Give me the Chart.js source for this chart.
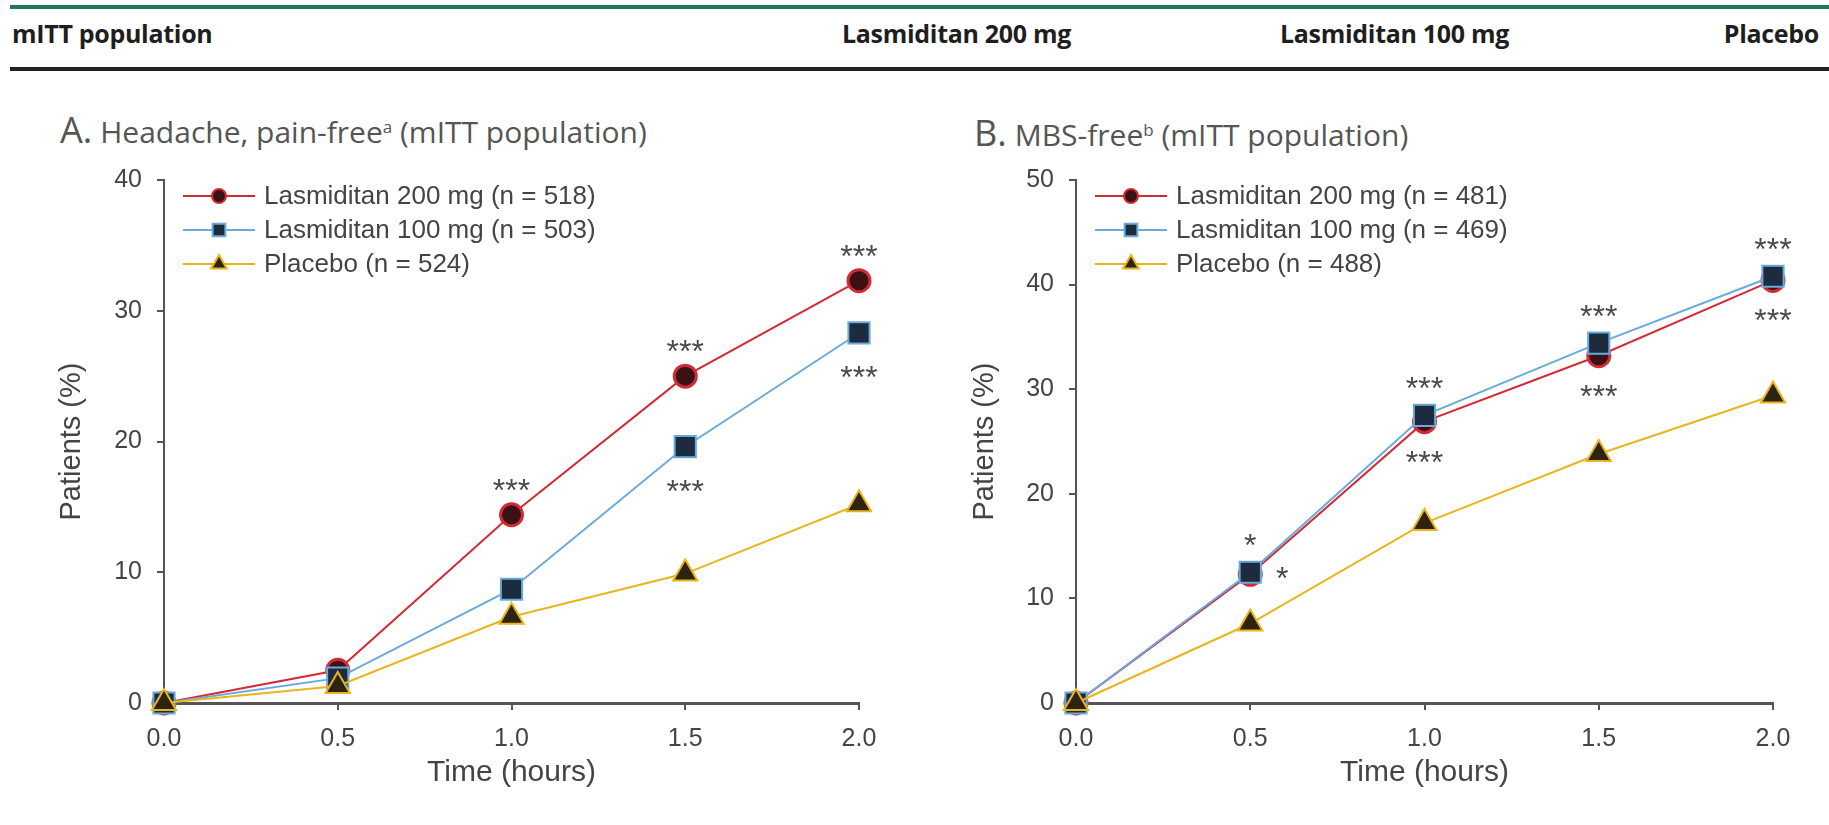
<!DOCTYPE html>
<html>
<head>
<meta charset="utf-8">
<title>Lasmiditan – pain-free and MBS-free</title>
<script src="https://cdn.jsdelivr.net/npm/chart.js@4.4.1/dist/chart.umd.min.js"></script>
<style>
  body {
    margin: 0;
    width: 1829px;
    height: 825px;
    background: #fff;
    position: relative;
    overflow: hidden;
    font-family: 'Open Sans', sans-serif;
  }
  .topbar { position: absolute; left: 10px; right: 0; top: 5px; height: 4px; background: #1c7a58; }
  .rule { position: absolute; left: 10px; right: 0; top: 67px; height: 4px; background: #222; }
  .hdr {
    position: absolute;
    top: 17px;
    font-weight: 700;
    font-size: 25px;
    line-height: 32px;
    color: #1e1e1e;
    letter-spacing: -0.3px;
    white-space: nowrap;
  }
  .ptitle {
    position: absolute;
    color: #555;
    font-size: 30px;
    line-height: 40px;
    white-space: nowrap;
  }
  .ptitle .lead { font-size: 36px; margin-right: 8px; }
  .ptitle sup { font-size: 17px; vertical-align: 10px; line-height: 0; }
  .panel { position: absolute; top: 150px; }
</style>
</head>
<body>
<div class="topbar"></div>
<div class="hdr" style="left:12px">mITT population</div>
<div class="hdr" style="left:842px">Lasmiditan 200 mg</div>
<div class="hdr" style="left:1280px">Lasmiditan 100 mg</div>
<div class="hdr" style="right:10px">Placebo</div>
<div class="rule"></div>

<div class="ptitle" style="left:60px; top:110px"><span class="lead">A.</span>Headache, pain-free<sup>a</sup> (mITT population)</div>
<div class="ptitle" style="left:974px; top:113px"><span class="lead">B.</span>MBS-free<sup>b</sup> (mITT population)</div>

<div class="panel" style="left:0px"><canvas id="painFreeChart" width="900" height="660"></canvas></div>
<div class="panel" style="left:900px"><canvas id="mbsFreeChart" width="929" height="660"></canvas></div>

<script>
// Time points and y ticks
const timeLabels = ['0.0', '0.5', '1.0', '1.5', '2.0'];
const painFreeTicks = [0, 10, 20, 30, 40];
const mbsFreeTicks = [0, 10, 20, 30, 40, 50];

// A. Headache pain-free, % of patients
const painFree200 = [0, 2.5, 14.4, 25.0, 32.3];
const painFree100 = [0, 1.9, 8.7, 19.6, 28.3];
const painFreePbo = [0, 1.3, 6.6, 9.9, 15.2];
const painFreeN = [518, 503, 524];
const painFreeSig200 = ['', '', '***', '***', '***'];
const painFreeSig100 = ['', '', '', '***', '***'];

// B. MBS-free, % of patients
const mbsFree200 = [0, 12.3, 26.9, 33.2, 40.4];
const mbsFree100 = [0, 12.5, 27.5, 34.4, 40.8];
const mbsFreePbo = [0, 7.6, 17.2, 23.8, 29.4];
const mbsFreeN = [481, 469, 488];
const mbsFreeSig200 = ['', '*', '***', '***', '***'];
const mbsFreeSig100 = ['', '*', '***', '***', '***'];

const SANS = '"Liberation Sans", Arial, Helvetica, sans-serif';
const TEXT = '#444';
const AXIS = '#555';

const arms = [
    { name: 'Lasmiditan 200 mg', line: '#d42a35', fill: '#3a1216', style: 'circle', radius: 11, bw: 3, legendR: 7, order: 3 },
    { name: 'Lasmiditan 100 mg', line: '#6aaadb', fill: '#1c2c3e', style: 'rect', radius: 15, bw: 2, legendR: 9, order: 2 },
    { name: 'Placebo', line: '#e8b51c', fill: '#2e2210', style: 'triangle', radius: 14, bw: 2, legendR: 9, order: 1 }
];

// Legend with a line through each marker, drawn inside the plot area
const lineLegend = {
    id: 'lineLegend',
    afterDraw(chart, args, opts) {
        const ctx = chart.ctx;
        const area = chart.chartArea;
        ctx.save();
        ctx.font = '26px ' + SANS;
        ctx.textBaseline = 'middle';
        ctx.textAlign = 'left';
        opts.n.forEach((n, i) => {
            const arm = arms[i];
            const y = area.top + 16 + i * 34;
            const x0 = area.left + 19;
            ctx.strokeStyle = arm.line;
            ctx.lineWidth = 2;
            ctx.beginPath();
            ctx.moveTo(x0, y);
            ctx.lineTo(x0 + 72, y);
            ctx.stroke();
            ctx.fillStyle = arm.fill;
            ctx.lineWidth = 2;
            Chart.helpers.drawPoint(ctx, {
                pointStyle: arm.style, radius: arm.legendR, rotation: 0, borderWidth: 2
            }, x0 + 36, y);
            ctx.fillStyle = TEXT;
            ctx.fillText(arm.name + ' (n = ' + n + ')', x0 + 81, y + 1);
        });
        ctx.restore();
    }
};

// Significance asterisks next to the points
const sigMarks = {
    id: 'sigMarks',
    afterDatasetsDraw(chart, args, opts) {
        const ctx = chart.ctx;
        ctx.save();
        ctx.font = '32px ' + SANS;
        ctx.fillStyle = '#4a4a4a';
        ctx.textAlign = 'center';
        ctx.textBaseline = 'alphabetic';
        opts.marks.forEach(m => {
            const meta = chart.getDatasetMeta(m.dataset);
            m.labels.forEach((txt, i) => {
                if (!txt) return;
                const pt = meta.data[i];
                let dx = 0, dy = m.dy;
                if (m.besideAt === i) { dx = 32; dy = -3; }
                // asterisks sit high in the em box, so shift the baseline down
                ctx.fillText(txt, pt.x + dx, pt.y + dy + 18);
            });
        });
        ctx.restore();
    }
};

function makeDatasets(series) {
    return series.map((values, i) => ({
        label: arms[i].name,
        data: values,
        borderColor: arms[i].line,
        borderWidth: 2,
        backgroundColor: arms[i].fill,
        pointStyle: arms[i].style,
        pointRadius: arms[i].radius,
        pointHoverRadius: arms[i].radius,
        pointBackgroundColor: arms[i].fill,
        pointBorderColor: arms[i].line,
        pointBorderWidth: arms[i].bw,
        tension: 0,
        clip: false,
        order: arms[i].order
    }));
}

function makeChart(id, series, yTicks, cfg) {
    const ctx = document.getElementById(id).getContext('2d');
    return new Chart(ctx, {
        type: 'line',
        data: { labels: timeLabels, datasets: makeDatasets(series) },
        plugins: [sigMarks, lineLegend],
        options: {
            responsive: false,
            animation: false,
            events: [],
            layout: { padding: { left: 0, top: 30, right: cfg.padRight, bottom: 0 } },
            plugins: {
                legend: { display: false },
                tooltip: { enabled: false },
                lineLegend: { n: cfg.n },
                sigMarks: { marks: cfg.marks }
            },
            scales: {
                x: {
                    type: 'category',
                    offset: false,
                    ticks: { color: TEXT, font: { family: SANS, size: 25 }, padding: 14, maxRotation: 0, autoSkip: false },
                    grid: { drawOnChartArea: false, offset: false, tickLength: 7, color: AXIS, lineWidth: 2 },
                    border: { color: AXIS, width: 3 },
                    title: {
                        display: true, text: 'Time (hours)', color: TEXT,
                        font: { family: SANS, size: 30 }, padding: { top: 0, bottom: 19 }
                    },
                    afterFit(scale) {
                        scale.height = 107;
                        scale.paddingLeft = 0;
                        scale.paddingRight = 0;
                    }
                },
                y: {
                    min: 0,
                    max: yTicks[yTicks.length - 1],
                    afterBuildTicks(scale) {
                        scale.ticks = yTicks.map(v => ({ value: v }));
                    },
                    ticks: { color: TEXT, font: { family: SANS, size: 25 }, padding: 15 },
                    grid: { drawOnChartArea: false, tickLength: 7, color: AXIS, lineWidth: 2 },
                    border: { color: AXIS, width: 2 },
                    title: {
                        display: true, text: 'Patients (%)', color: TEXT,
                        font: { family: SANS, size: 29 }, padding: { top: cfg.titleGap, bottom: 0 }
                    },
                    afterFit(scale) {
                        scale.width = cfg.axisWidth;
                        scale.paddingTop = 0;
                        scale.paddingBottom = 0;
                    }
                }
            }
        }
    });
}

makeChart('painFreeChart', [painFree200, painFree100, painFreePbo], painFreeTicks, {
    padRight: 41,
    axisWidth: 164,
    titleGap: 55,
    n: painFreeN,
    marks: [
        { dataset: 0, labels: painFreeSig200, dy: -32 },
        { dataset: 1, labels: painFreeSig100, dy: 37 }
    ]
});

makeChart('mbsFreeChart', [mbsFree200, mbsFree100, mbsFreePbo], mbsFreeTicks, {
    padRight: 56,
    axisWidth: 176,
    titleGap: 68,
    n: mbsFreeN,
    marks: [
        { dataset: 1, labels: mbsFreeSig100, dy: -34 },
        { dataset: 0, labels: mbsFreeSig200, dy: 33, besideAt: 1 }
    ]
});
</script>
</body>
</html>
